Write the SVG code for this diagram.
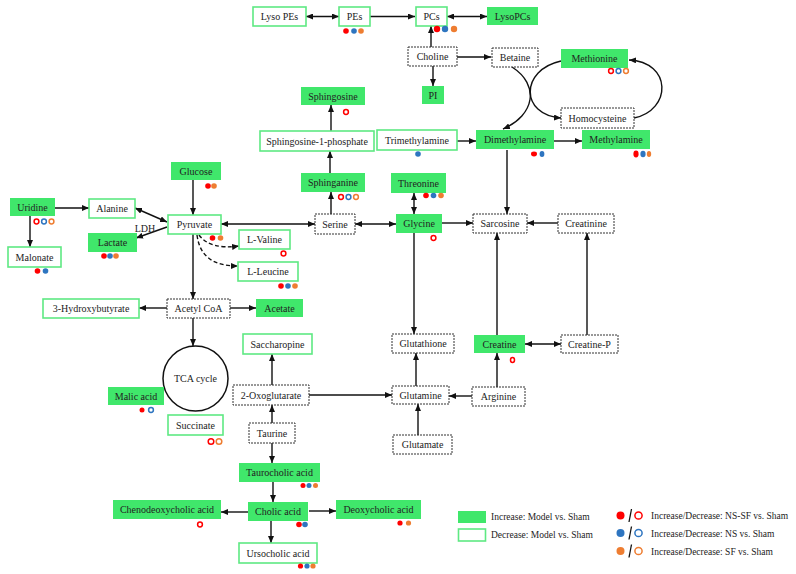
<svg xmlns="http://www.w3.org/2000/svg" width="796" height="574" viewBox="0 0 796 574">
<style>
text{font-family:"Liberation Serif","Times New Roman",serif;font-size:10px;fill:#222;text-anchor:middle;dominant-baseline:central}
.f{fill:#40e76b}
.o{fill:#fff;stroke:#5ee983;stroke-width:1.6}
.d{fill:#fff;stroke:#333;stroke-width:1;stroke-dasharray:2 1}
.c line,.c path{stroke:#111;stroke-width:1.4;fill:none;marker-end:url(#ah)}
.c .b{marker-start:url(#ah)}
.c .dash{stroke-dasharray:4 2.5}
.R{fill:#f00}.B{fill:#2e75c0}.O{fill:#ee7d31}
.r{fill:#fff;stroke:#f00;stroke-width:1.5}.bo{fill:#fff;stroke:#2e75c0;stroke-width:1.5}.oo{fill:#fff;stroke:#ee7d31;stroke-width:1.5}
.lg{text-anchor:start;font-size:9.5px}
</style>
<defs>
<marker id="ah" markerUnits="userSpaceOnUse" markerWidth="7" markerHeight="6" refX="7" refY="3" orient="auto-start-reverse"><path d="M0,0 L7,3 L0,6 z" fill="#111"/></marker>
</defs>
<rect width="796" height="574" fill="#fff"/>
<g class="c" id="connectors">
<line class="b" x1="306" y1="16.5" x2="339" y2="16.5"/>
<line x1="370" y1="16.5" x2="415" y2="16.5"/>
<line class="b" x1="447" y1="16.5" x2="487" y2="16.5"/>
<line x1="431" y1="47" x2="431" y2="26"/>
<line x1="457" y1="57" x2="491" y2="57"/>
<line x1="433" y1="66" x2="433" y2="86"/>
<path d="M512,67 C540,85 535,115 503,129"/>
<path d="M561,61 C520,70 520,115 561,118"/>
<path d="M634,118 C672,110 672,62 629,60"/>
<line x1="331" y1="131" x2="331" y2="105"/>
<line x1="330" y1="173" x2="330" y2="151"/>
<line x1="457" y1="141" x2="476" y2="141"/>
<line x1="554" y1="141" x2="582" y2="141"/>
<line x1="507" y1="150" x2="507" y2="214"/>
<line x1="193" y1="180" x2="193" y2="215"/>
<line x1="55" y1="208" x2="89" y2="208"/>
<line x1="30" y1="216" x2="30" y2="247"/>
<line class="b" x1="135" y1="208" x2="167" y2="222"/>
<line x1="167" y1="227" x2="136" y2="238"/>
<path class="dash" d="M199,235 Q210,250 239,246"/>
<path class="dash" d="M197,235 C200,258 215,266 238,266"/>
<line class="b" x1="221" y1="224" x2="315" y2="224"/>
<line x1="331" y1="214" x2="331" y2="192"/>
<line class="b" x1="355" y1="224" x2="396" y2="224"/>
<line class="b" x1="414" y1="193" x2="414" y2="214"/>
<line x1="442" y1="223" x2="473" y2="223"/>
<line x1="414" y1="233" x2="414" y2="334"/>
<line x1="558" y1="223" x2="527" y2="223"/>
<line x1="587" y1="335" x2="587" y2="233"/>
<line x1="497" y1="335" x2="497" y2="233"/>
<line class="b" x1="525" y1="344" x2="561" y2="344"/>
<line x1="193" y1="234" x2="193" y2="299"/>
<line x1="167" y1="308" x2="139" y2="308"/>
<line x1="230" y1="308" x2="256" y2="308"/>
<line x1="193" y1="318" x2="193" y2="346"/>
<line x1="272" y1="385" x2="272" y2="354"/>
<line x1="272" y1="423" x2="272" y2="405"/>
<line x1="309" y1="395" x2="392" y2="395"/>
<line x1="416" y1="386" x2="416" y2="353"/>
<line x1="472" y1="396" x2="449" y2="396"/>
<line x1="497" y1="387" x2="497" y2="353"/>
<line x1="418" y1="435" x2="418" y2="404"/>
<line x1="272" y1="443" x2="272" y2="463"/>
<line x1="273" y1="482" x2="273" y2="502"/>
<line x1="309" y1="511" x2="336" y2="511"/>
<line x1="248" y1="512" x2="221" y2="512"/>
<line x1="271" y1="521" x2="271" y2="543"/>
</g>
<g id="n-lysopes"><rect class="o" x="253" y="7" width="53" height="19"/><text x="279.5" y="16.5">Lyso PEs</text></g>
<g id="n-pes"><rect class="o" x="339" y="7" width="31" height="19"/><text x="354.5" y="16.5">PEs</text></g>
<g id="n-pcs"><rect class="o" x="416" y="7" width="31" height="19"/><text x="431.5" y="16.5">PCs</text></g>
<g id="n-lysopcs"><rect class="f" x="487" y="7" width="51" height="18"/><text x="512.5" y="16">LysoPCs</text></g>
<g id="n-choline"><rect class="d" x="408" y="47" width="49" height="19"/><text x="432.5" y="56.5">Choline</text></g>
<g id="n-betaine"><rect class="d" x="492" y="48" width="46" height="19"/><text x="515" y="57.5">Betaine</text></g>
<g id="n-pi"><rect class="f" x="422" y="86" width="22" height="18"/><text x="433" y="95">PI</text></g>
<g id="n-methionine"><rect class="f" x="561" y="49" width="67" height="19"/><text x="594.5" y="58.5">Methionine</text></g>
<g id="n-homocysteine"><rect class="d" x="561" y="108" width="73" height="20"/><text x="597.5" y="118">Homocysteine</text></g>
<g id="n-sphingosine"><rect class="f" x="301" y="87" width="64" height="18"/><text x="333" y="96">Sphingosine</text></g>
<g id="n-s1p"><rect class="o" x="260" y="131" width="114" height="20"/><text x="317" y="141">Sphingosine-1-phosphate</text></g>
<g id="n-trimethylamine"><rect class="o" x="377" y="130" width="80" height="20"/><text x="417" y="140">Trimethylamine</text></g>
<g id="n-dimethylamine"><rect class="f" x="476" y="130" width="78" height="19"/><text x="515" y="139.5">Dimethylamine</text></g>
<g id="n-methylamine"><rect class="f" x="582" y="130" width="68" height="19"/><text x="616" y="139.5">Methylamine</text></g>
<g id="n-glucose"><rect class="f" x="171" y="162" width="50" height="18"/><text x="196" y="171">Glucose</text></g>
<g id="n-sphinganine"><rect class="f" x="301" y="173" width="64" height="19"/><text x="333" y="182.5">Sphinganine</text></g>
<g id="n-threonine"><rect class="f" x="391" y="173" width="55" height="20"/><text x="418.5" y="183">Threonine</text></g>
<g id="n-uridine"><rect class="f" x="10" y="198" width="45" height="18"/><text x="32.5" y="207">Uridine</text></g>
<g id="n-alanine"><rect class="o" x="89" y="199" width="46" height="19"/><text x="112" y="208.5">Alanine</text></g>
<g id="n-pyruvate"><rect class="o" x="168" y="215" width="53" height="19"/><text x="194.5" y="224.5">Pyruvate</text></g>
<g id="n-lactate"><rect class="f" x="88" y="233" width="49" height="19"/><text x="112.5" y="242.5">Lactate</text></g>
<g id="n-malonate"><rect class="o" x="8" y="247" width="53" height="20"/><text x="34.5" y="257">Malonate</text></g>
<text x="145" y="228">LDH</text>
<g id="n-serine"><rect class="d" x="315" y="214" width="40" height="20"/><text x="335" y="224">Serine</text></g>
<g id="n-glycine"><rect class="f" x="396" y="214" width="46" height="19"/><text x="419" y="223.5">Glycine</text></g>
<g id="n-sarcosine"><rect class="d" x="473" y="214" width="54" height="19"/><text x="500" y="223.5">Sarcosine</text></g>
<g id="n-creatinine"><rect class="d" x="558" y="214" width="56" height="19"/><text x="586" y="223.5">Creatinine</text></g>
<g id="n-lvaline"><rect class="o" x="239" y="230" width="51" height="19"/><text x="264.5" y="239.5">L-Valine</text></g>
<g id="n-lleucine"><rect class="o" x="238" y="262" width="60" height="19"/><text x="268" y="271.5">L-Leucine</text></g>
<g id="n-acetylcoa"><rect class="d" x="167" y="299" width="63" height="19"/><text x="198.5" y="308.5">Acetyl CoA</text></g>
<g id="n-3hb"><rect class="o" x="43" y="299" width="96" height="19"/><text x="91" y="308.5">3-Hydroxybutyrate</text></g>
<g id="n-acetate"><rect class="f" x="256" y="299" width="47" height="18"/><text x="279.5" y="308">Acetate</text></g>
<g id="n-tca"><circle cx="195.5" cy="378.5" r="32.5" fill="#fff" stroke="#111" stroke-width="1.5"/><text x="195.5" y="378.5">TCA cycle</text></g>
<g id="n-saccharopine"><rect class="o" x="243" y="334" width="69" height="20"/><text x="277.5" y="344">Saccharopine</text></g>
<g id="n-glutathione"><rect class="d" x="392" y="334" width="62" height="19"/><text x="423" y="343.5">Glutathione</text></g>
<g id="n-creatine"><rect class="f" x="474" y="335" width="51" height="18"/><text x="499.5" y="344">Creatine</text></g>
<g id="n-creatinep"><rect class="d" x="561" y="335" width="57" height="18"/><text x="589.5" y="344">Creatine-P</text></g>
<g id="n-malic"><rect class="f" x="108" y="387" width="56" height="18"/><text x="136" y="396">Malic acid</text></g>
<g id="n-2oxo"><rect class="d" x="233" y="385" width="76" height="20"/><text x="271" y="395">2-Oxoglutarate</text></g>
<g id="n-glutamine"><rect class="d" x="392" y="386" width="57" height="18"/><text x="420.5" y="395">Glutamine</text></g>
<g id="n-arginine"><rect class="d" x="472" y="387" width="53" height="19"/><text x="498.5" y="396.5">Arginine</text></g>
<g id="n-succinate"><rect class="o" x="168" y="415" width="55" height="20"/><text x="195.5" y="425">Succinate</text></g>
<g id="n-taurine"><rect class="d" x="249" y="423" width="46" height="20"/><text x="272" y="433">Taurine</text></g>
<g id="n-glutamate"><rect class="d" x="393" y="435" width="59" height="19"/><text x="422.5" y="444.5">Glutamate</text></g>
<g id="n-taurocholic"><rect class="f" x="239" y="463" width="81" height="19"/><text x="279.5" y="472.5">Taurocholic acid</text></g>
<g id="n-cholic"><rect class="f" x="248" y="502" width="60" height="19"/><text x="278" y="511.5">Cholic acid</text></g>
<g id="n-deoxycholic"><rect class="f" x="336" y="500" width="85" height="19"/><text x="378.5" y="509.5">Deoxycholic acid</text></g>
<g id="n-cdca"><rect class="f" x="113" y="500" width="108" height="19"/><text x="167" y="509.5">Chenodeoxycholic acid</text></g>
<g id="n-ursocholic"><rect class="o" x="239" y="543" width="78" height="20"/><text x="278" y="553">Ursocholic acid</text></g>
<g id="dots">
<circle class="R" cx="346" cy="31" r="2.8"/><circle class="B" cx="354" cy="31" r="2.8"/><circle class="O" cx="361" cy="31" r="2.8"/>
<circle class="R" cx="437" cy="29" r="3.2"/><circle class="B" cx="445" cy="29" r="3.2"/><circle class="O" cx="454" cy="29" r="3.2"/>
<circle class="r" cx="611" cy="71" r="2.4"/><circle class="bo" cx="618.5" cy="71" r="2.4"/><circle class="oo" cx="626" cy="71" r="2.4"/>
<circle class="r" cx="346" cy="112" r="2.4"/>
<circle class="B" cx="418" cy="154" r="2.8"/>
<ellipse class="R" cx="534" cy="154" rx="3" ry="2.4"/><ellipse class="B" cx="542" cy="154" rx="2.4" ry="3"/>
<ellipse class="R" cx="636" cy="154" rx="2.6" ry="3.4"/><ellipse class="B" cx="643" cy="154" rx="2.6" ry="3.2"/><ellipse class="O" cx="649" cy="154" rx="2.2" ry="3"/>
<circle class="R" cx="208" cy="186" r="2.8"/><circle class="O" cx="214" cy="186" r="2.8"/>
<circle class="r" cx="341" cy="197" r="2.4"/><circle class="bo" cx="348.5" cy="197" r="2.4"/><circle class="oo" cx="356" cy="197" r="2.4"/>
<circle class="R" cx="426" cy="195.5" r="2.8"/><circle class="B" cx="433.5" cy="195.5" r="2.8"/><circle class="O" cx="441" cy="195.5" r="2.8"/>
<circle class="r" cx="36.5" cy="221.5" r="2.4"/><circle class="bo" cx="44" cy="221.5" r="2.4"/><circle class="oo" cx="51.5" cy="221.5" r="2.4"/>
<circle class="R" cx="104" cy="256" r="2.8"/><circle class="B" cx="110" cy="256" r="2.8"/><circle class="O" cx="116" cy="256" r="2.8"/>
<circle class="R" cx="37.5" cy="271" r="2.8"/><circle class="B" cx="45.5" cy="271" r="2.8"/>
<circle class="R" cx="212.5" cy="238" r="2.8"/><circle class="O" cx="220.5" cy="238" r="2.8"/>
<circle class="r" cx="433.5" cy="238" r="2.4"/>
<circle class="r" cx="283.5" cy="253.5" r="2.4"/>
<circle class="R" cx="281" cy="286" r="2.8"/><circle class="B" cx="288" cy="286" r="2.8"/><circle class="O" cx="295" cy="286" r="2.8"/>
<ellipse class="r" cx="512.5" cy="360" rx="2" ry="2.5"/>
<circle class="R" cx="142" cy="410" r="2.5"/><circle class="bo" cx="151" cy="410" r="2.4"/>
<circle class="r" cx="211" cy="441.5" r="2.8"/><circle class="oo" cx="219" cy="441.5" r="2.8"/>
<circle class="R" cx="303" cy="485.5" r="2.5"/><circle class="B" cx="309" cy="485.5" r="2.5"/><circle class="O" cx="315.5" cy="485.5" r="2.5"/>
<circle class="R" cx="299" cy="524.5" r="2.8"/><circle class="B" cx="305" cy="524.5" r="2.8"/>
<circle class="R" cx="400" cy="523" r="2.6"/><circle class="O" cx="408.5" cy="523" r="2.6"/>
<circle class="r" cx="200" cy="524.5" r="2.4"/>
<circle class="R" cx="300.5" cy="566" r="2.6"/><circle class="B" cx="307" cy="566" r="2.6"/><circle class="O" cx="313" cy="566" r="2.6"/>
</g>
<g id="legend">
<rect class="f" x="458" y="511" width="28" height="12"/>
<text class="lg" x="491" y="517">Increase: Model vs. Sham</text>
<rect class="o" x="458.5" y="529" width="27" height="12"/>
<text class="lg" x="491" y="534.5">Decrease: Model vs. Sham</text>
<circle class="R" cx="620.5" cy="515.5" r="4"/><line x1="631.5" y1="509" x2="629" y2="522" stroke="#111" stroke-width="1.3"/><circle class="r" cx="638.5" cy="515.5" r="3.6"/>
<text class="lg" x="651" y="516">Increase/Decrease: NS-SF vs. Sham</text>
<circle class="B" cx="620.5" cy="533" r="4"/><line x1="631.5" y1="526.5" x2="629" y2="539.5" stroke="#111" stroke-width="1.3"/><circle class="bo" cx="638.5" cy="533" r="3.6"/>
<text class="lg" x="651" y="533.5">Increase/Decrease: NS vs. Sham</text>
<circle class="O" cx="620.5" cy="551" r="4"/><line x1="631.5" y1="544.5" x2="629" y2="557.5" stroke="#111" stroke-width="1.3"/><circle class="oo" cx="638.5" cy="551" r="3.6"/>
<text class="lg" x="651" y="551.5">Increase/Decrease: SF vs. Sham</text>
</g>
</svg>
